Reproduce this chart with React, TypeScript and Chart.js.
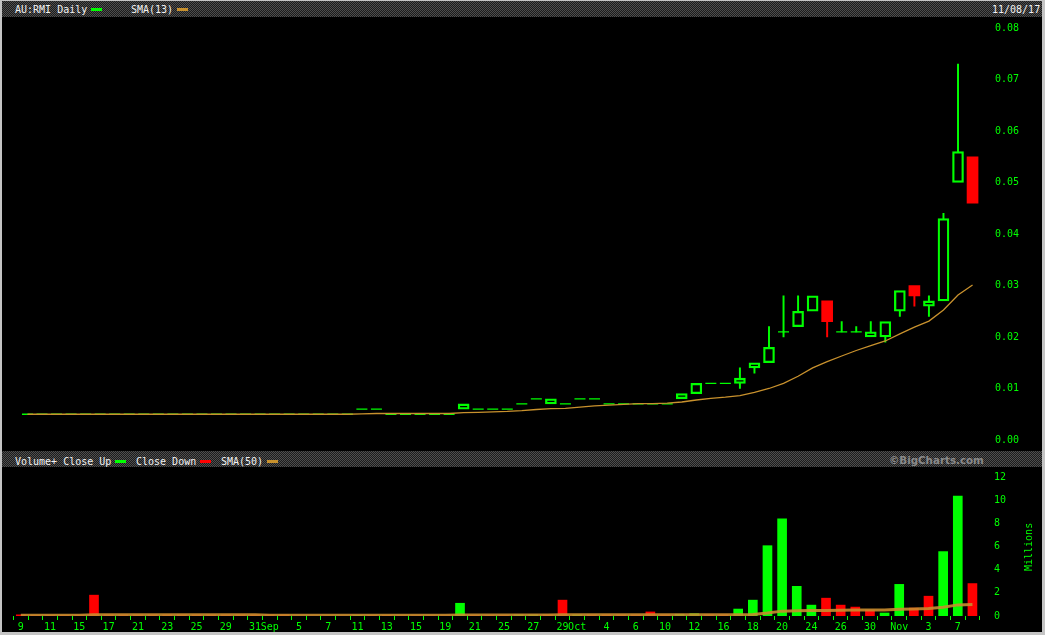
import React, { useEffect, useRef } from 'react';
import { Chart, registerables } from 'chart.js';

Chart.register(...registerables);

// ---------------- data ----------------
// one entry per trading day, 9 Aug 2017 .. 8 Nov 2017
const tickLabels: string[] = [
  '9', '', '11', '', '15', '', '17', '', '21', '',
  '23', '', '25', '', '29', '', '31', 'Sep', '', '5',
  '', '7', '', '11', '', '13', '', '15', '', '19',
  '', '21', '', '25', '', '27', '', '29', 'Oct', '',
  '4', '', '6', '', '10', '', '12', '', '16', '',
  '18', '', '20', '', '24', '', '26', '', '30', '',
  'Nov', '', '3', '', '7', '',
];

const open: number[] = [
  0.005, 0.005, 0.005, 0.005, 0.005, 0.005, 0.005, 0.005, 0.005, 0.005,
  0.005, 0.005, 0.005, 0.005, 0.005, 0.005, 0.005, 0.005, 0.005, 0.005,
  0.005, 0.005, 0.005, 0.006, 0.006, 0.005, 0.005, 0.005, 0.005, 0.005,
  0.006, 0.006, 0.006, 0.006, 0.007, 0.008, 0.007, 0.007, 0.008, 0.008,
  0.007, 0.007, 0.007, 0.007, 0.007, 0.008, 0.009, 0.011, 0.011, 0.011,
  0.014, 0.015, 0.021, 0.022, 0.025, 0.027, 0.021, 0.021, 0.020, 0.020,
  0.025, 0.030, 0.026, 0.027, 0.050, 0.055,
];
const high: number[] = [
  0.005, 0.005, 0.005, 0.005, 0.005, 0.005, 0.005, 0.005, 0.005, 0.005,
  0.005, 0.005, 0.005, 0.005, 0.005, 0.005, 0.005, 0.005, 0.005, 0.005,
  0.005, 0.005, 0.005, 0.006, 0.006, 0.005, 0.005, 0.005, 0.005, 0.005,
  0.007, 0.006, 0.006, 0.006, 0.007, 0.008, 0.008, 0.007, 0.008, 0.008,
  0.007, 0.007, 0.007, 0.007, 0.007, 0.009, 0.011, 0.011, 0.011, 0.014,
  0.015, 0.022, 0.028, 0.028, 0.028, 0.027, 0.023, 0.022, 0.023, 0.023,
  0.029, 0.030, 0.028, 0.044, 0.073, 0.055,
];
const low: number[] = [
  0.005, 0.005, 0.005, 0.005, 0.005, 0.005, 0.005, 0.005, 0.005, 0.005,
  0.005, 0.005, 0.005, 0.005, 0.005, 0.005, 0.005, 0.005, 0.005, 0.005,
  0.005, 0.005, 0.005, 0.006, 0.006, 0.005, 0.005, 0.005, 0.005, 0.005,
  0.006, 0.006, 0.006, 0.006, 0.007, 0.008, 0.007, 0.007, 0.008, 0.008,
  0.007, 0.007, 0.007, 0.007, 0.007, 0.008, 0.009, 0.011, 0.011, 0.010,
  0.013, 0.015, 0.020, 0.022, 0.025, 0.020, 0.021, 0.021, 0.020, 0.019,
  0.024, 0.026, 0.024, 0.027, 0.050, 0.046,
];
const close: number[] = [
  0.005, 0.005, 0.005, 0.005, 0.005, 0.005, 0.005, 0.005, 0.005, 0.005,
  0.005, 0.005, 0.005, 0.005, 0.005, 0.005, 0.005, 0.005, 0.005, 0.005,
  0.005, 0.005, 0.005, 0.006, 0.006, 0.005, 0.005, 0.005, 0.005, 0.005,
  0.007, 0.006, 0.006, 0.006, 0.007, 0.008, 0.008, 0.007, 0.008, 0.008,
  0.007, 0.007, 0.007, 0.007, 0.007, 0.009, 0.011, 0.011, 0.011, 0.012,
  0.015, 0.018, 0.021, 0.025, 0.028, 0.023, 0.021, 0.021, 0.021, 0.023,
  0.029, 0.028, 0.027, 0.043, 0.056, 0.046,
];
const sma13: number[] = [
  0.005, 0.005, 0.005, 0.005, 0.005, 0.005, 0.005, 0.005, 0.005, 0.005,
  0.005, 0.005, 0.005, 0.005, 0.005, 0.005, 0.005, 0.005, 0.005, 0.005,
  0.005, 0.005, 0.005, 0.00508, 0.00515, 0.00515, 0.00515, 0.00515, 0.00515, 0.00515,
  0.00531, 0.00538, 0.00546, 0.00554, 0.00569, 0.00592, 0.00608, 0.00615, 0.00638, 0.00662,
  0.00677, 0.00692, 0.00708, 0.00708, 0.00715, 0.00738, 0.00777, 0.00808, 0.00831, 0.00862,
  0.00923, 0.0100, 0.0110, 0.01238, 0.0140, 0.01523, 0.01631, 0.01738, 0.01831, 0.01923,
  0.02062, 0.02192, 0.02308, 0.02523, 0.02815, 0.03008,
];
// volume, millions
const volume: number[] = [
  0.10, 0.05, 0.05, 0.05, 0.05, 1.80, 0.10, 0.10, 0.10, 0.10,
  0.10, 0.10, 0.10, 0.10, 0.10, 0.10, 0.10, 0.10, 0.10, 0.00,
  0.00, 0.00, 0.00, 0.05, 0.05, 0.05, 0.02, 0.02, 0.02, 0.02,
  1.10, 0.05, 0.05, 0.05, 0.10, 0.10, 0.10, 1.37, 0.10, 0.10,
  0.10, 0.10, 0.10, 0.35, 0.10, 0.15, 0.20, 0.10, 0.10, 0.60,
  1.37, 6.07, 8.38, 2.56, 0.94, 1.54, 0.94, 0.77, 0.51, 0.26,
  2.73, 0.68, 1.71, 5.56, 10.35, 2.80,
];
const volSma50: number[] = [
  0.06, 0.06, 0.06, 0.06, 0.06, 0.10, 0.10, 0.10, 0.10, 0.10,
  0.10, 0.10, 0.10, 0.10, 0.10, 0.10, 0.10, 0.06, 0.06, 0.06,
  0.06, 0.06, 0.06, 0.06, 0.06, 0.06, 0.06, 0.06, 0.06, 0.06,
  0.08, 0.08, 0.08, 0.08, 0.08, 0.08, 0.08, 0.10, 0.10, 0.10,
  0.10, 0.10, 0.10, 0.10, 0.10, 0.10, 0.10, 0.10, 0.10, 0.11,
  0.14, 0.26, 0.42, 0.46, 0.48, 0.48, 0.50, 0.51, 0.51, 0.52,
  0.58, 0.60, 0.64, 0.76, 0.96, 1.00,
];
const priceTicks: number[] = [0, 0.01, 0.02, 0.03, 0.04, 0.05, 0.06, 0.07, 0.08];
const volTicks: number[] = [0, 2, 4, 6, 8, 10, 12];

// ---------------- style ----------------
const GREEN = '#00ff00';
const RED = '#ff0000';
const SMA_COLOR = '#c8912d';
const VOL_SMA_COLOR = 'rgba(200,140,45,0.9)';
const MONO = '"DejaVu Sans Mono", monospace';
const FONT = { family: MONO, size: 10 };
const X_MIN = -1.284;
const X_MAX = 66.2;
const AXIS_W = 52;
const CHECKER = 'repeating-conic-gradient(#4e4e4e 0% 25%, #1c1c1c 0% 50%) 0 0 / 2px 2px';

const idxs = close.map((_, i) => i);

export default function App() {
  const priceRef = useRef<HTMLCanvasElement>(null);
  const volRef = useRef<HTMLCanvasElement>(null);

  useEffect(() => {
    document.body.style.margin = '0';
    const isDown = (i: number) => close[i] < open[i];
    const bodies = idxs
      .filter((i) => open[i] !== close[i])
      .map((i) => ({ x: i, y: [open[i], close[i]], dn: isDown(i) }));
    const wickHi = idxs
      .filter((i) => high[i] > Math.max(open[i], close[i]))
      .map((i) => ({ x: i, y: [Math.max(open[i], close[i]), high[i]], dn: isDown(i) }));
    const wickLo = idxs
      .filter((i) => low[i] < Math.min(open[i], close[i]))
      .map((i) => ({ x: i, y: [low[i], Math.min(open[i], close[i])], dn: isDown(i) }));
    const dashes = idxs.filter((i) => open[i] === close[i]).map((i) => ({ x: i, y: close[i] }));

    const pc = new Chart(priceRef.current as HTMLCanvasElement, {
      type: 'bar',
      data: {
        datasets: [
          {
            type: 'line',
            data: idxs.map((i) => ({ x: i, y: sma13[i] })),
            borderColor: SMA_COLOR,
            borderWidth: 1.3,
            pointRadius: 0,
            tension: 0,
            fill: false,
          } as any,
          {
            type: 'line',
            data: dashes,
            showLine: false,
            pointStyle: 'line',
            pointRadius: 5.5,
            pointBorderColor: GREEN,
            pointBackgroundColor: GREEN,
            pointBorderWidth: 1.3,
          } as any,
          {
            type: 'bar',
            data: bodies,
            grouped: false,
            barThickness: 11,
            borderSkipped: false,
            borderWidth: (c: any) => (c.raw && c.raw.dn ? 0 : 1.6),
            borderColor: (c: any) => (c.raw && c.raw.dn ? RED : GREEN),
            backgroundColor: (c: any) => (c.raw && c.raw.dn ? RED : 'rgba(0,0,0,0)'),
          } as any,
          {
            type: 'bar',
            data: wickHi,
            grouped: false,
            barThickness: 1.3,
            borderWidth: 0,
            backgroundColor: (c: any) => (c.raw && c.raw.dn ? RED : GREEN),
          } as any,
          {
            type: 'bar',
            data: wickLo,
            grouped: false,
            barThickness: 1.3,
            borderWidth: 0,
            backgroundColor: (c: any) => (c.raw && c.raw.dn ? RED : GREEN),
          } as any,
        ],
      },
      options: {
        responsive: false,
        animation: false,
        events: [],
        layout: { padding: { top: 6.2, bottom: 7, left: 0, right: 0 } },
        plugins: { legend: { display: false }, tooltip: { enabled: false } },
        scales: {
          x: { type: 'linear', display: false, min: X_MIN, max: X_MAX, offset: false },
          y: {
            type: 'linear',
            position: 'right',
            min: 0,
            max: 0.08,
            afterBuildTicks: (s: any) => {
              s.ticks = priceTicks.map((v) => ({ value: v }));
            },
            afterFit: (s: any) => {
              s.width = AXIS_W;
            },
            ticks: {
              color: GREEN,
              font: FONT,
              padding: 5,
              callback: (v: any) => Number(v).toFixed(2),
            },
            grid: { display: false, drawTicks: false, tickLength: 0 },
            border: { display: false },
          },
        },
      } as any,
    });

    const vc = new Chart(volRef.current as HTMLCanvasElement, {
      type: 'bar',
      data: {
        datasets: [
          {
            type: 'line',
            data: idxs.map((i) => ({ x: i, y: volSma50[i] })),
            borderColor: VOL_SMA_COLOR,
            borderWidth: 3,
            pointRadius: 0,
            tension: 0,
            fill: false,
          } as any,
          {
            type: 'bar',
            data: idxs.map((i) => ({ x: i, y: volume[i] })),
            grouped: false,
            barThickness: 9,
            borderWidth: 0,
            backgroundColor: idxs.map((i) => (i > 0 && close[i] > close[i - 1] ? GREEN : RED)),
          } as any,
        ],
      },
      options: {
        responsive: false,
        animation: false,
        events: [],
        layout: { padding: { top: 8.6, bottom: 0, left: 0, right: 0 } },
        plugins: { legend: { display: false }, tooltip: { enabled: false } },
        scales: {
          x: {
            type: 'linear',
            min: X_MIN,
            max: X_MAX,
            offset: false,
            afterBuildTicks: (s: any) => {
              s.ticks = idxs.map((i) => ({ value: i }));
            },
            afterFit: (s: any) => {
              s.height = 16;
            },
            ticks: {
              autoSkip: false,
              maxRotation: 0,
              minRotation: 0,
              color: GREEN,
              font: FONT,
              padding: 1,
              callback: (v: any) => tickLabels[v] ?? '',
            },
            grid: {
              display: true,
              drawOnChartArea: false,
              drawTicks: true,
              tickLength: 4,
              color: GREEN,
              lineWidth: 1,
            },
            border: { display: false },
          },
          y: {
            type: 'linear',
            position: 'right',
            min: 0,
            max: 12,
            afterBuildTicks: (s: any) => {
              s.ticks = volTicks.map((v) => ({ value: v }));
            },
            afterFit: (s: any) => {
              s.width = AXIS_W;
            },
            ticks: { color: GREEN, font: FONT, padding: 4 },
            grid: { display: false, drawTicks: false, tickLength: 0 },
            border: { display: false },
          },
        },
      } as any,
    });

    return () => {
      pc.destroy();
      vc.destroy();
    };
  }, []);

  const txt = (left: number, top: number, color = '#f2f2f2'): React.CSSProperties => ({
    position: 'absolute',
    left,
    top,
    fontFamily: MONO,
    fontSize: 10,
    lineHeight: '10px',
    color,
    whiteSpace: 'pre',
  });
  const sw = (left: number, top: number, color: string): React.CSSProperties => ({
    position: 'absolute',
    left,
    top,
    width: 11,
    height: 3,
    background: color,
  });

  return (
    <div style={{ position: 'absolute', left: 0, top: 0, width: 1045, height: 635, background: '#c4c4c4', overflow: 'hidden' }}>
      <div style={{ position: 'absolute', left: 2, top: 1, width: 1040, height: 631, background: '#000' }} />
      {/* price header */}
      <div style={{ position: 'absolute', left: 2, top: 1, width: 1040, height: 16, background: CHECKER }} />
      <span style={txt(15, 4.5)}>AU:RMI Daily</span>
      <div style={sw(91, 7.5, GREEN)} />
      <span style={txt(131, 4.5)}>SMA(13)</span>
      <div style={sw(177, 7.5, SMA_COLOR)} />
      <span style={txt(992, 4.5)}>11/08/17</span>
      <canvas ref={priceRef} width={1040} height={434} style={{ position: 'absolute', left: 2, top: 17, display: 'block' }} />
      {/* volume header */}
      <div style={{ position: 'absolute', left: 2, top: 451, width: 1040, height: 16, background: CHECKER }} />
      <span style={txt(15, 456.5)}>Volume+ Close Up</span>
      <div style={sw(115, 459.5, GREEN)} />
      <span style={txt(136, 456.5)}>Close Down</span>
      <div style={sw(200, 459.5, RED)} />
      <span style={txt(221, 456.5)}>SMA(50)</span>
      <div style={sw(267, 459.5, SMA_COLOR)} />
      <span
        style={{
          position: 'absolute',
          left: 889,
          top: 454.5,
          fontFamily: '"DejaVu Sans", sans-serif',
          fontWeight: 'bold',
          fontSize: 10.3,
          lineHeight: '11px',
          color: '#8a8a8a',
          whiteSpace: 'pre',
        }}
      >
        ©BigCharts.com
      </span>
      <canvas ref={volRef} width={1040} height={165} style={{ position: 'absolute', left: 2, top: 467, display: 'block' }} />
      <span
        style={{
          ...txt(1005, 542, GREEN),
          width: 48,
          textAlign: 'center',
          transform: 'rotate(-90deg)',
          transformOrigin: '24px 5px',
        }}
      >
        Millions
      </span>
    </div>
  );
}
